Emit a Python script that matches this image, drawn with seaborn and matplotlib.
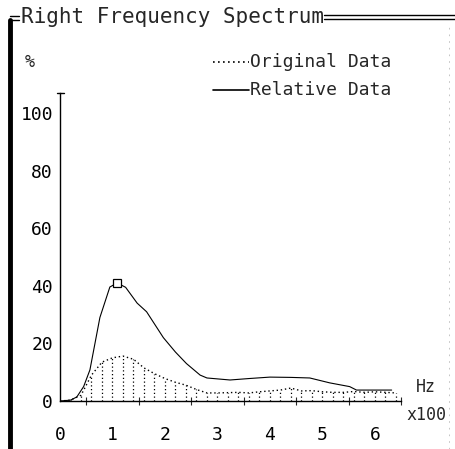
import matplotlib
matplotlib.use('Agg')
import matplotlib.pyplot as plt
import pandas as pd
import seaborn as sns
from matplotlib.lines import Line2D

# relative data (solid line), x in Hz x100
rel_x = [0.0, 0.2, 0.32, 0.45, 0.57, 0.76, 0.95, 1.09, 1.25, 1.47, 1.65, 1.97,
         2.2, 2.41, 2.67, 2.8, 3.24, 3.6, 4.0, 4.4, 4.76, 5.14, 5.52, 5.65, 6.0, 6.32]
rel_y = [0.0, 0.3, 1.4, 5.0, 10.8, 29.0, 39.6, 41.0, 39.5, 34.0, 31.0, 22.0,
         17.0, 13.0, 9.0, 8.0, 7.3, 7.8, 8.3, 8.2, 8.0, 6.3, 5.0, 3.8, 3.8, 3.8]
peak_x = [1.09]
peak_y = [41.0]

# original data (dotted line with dotted fill)
orig_x = [0.0, 0.2, 0.4, 0.6, 0.8, 1.0, 1.2, 1.4, 1.6, 1.8, 2.0, 2.2, 2.4, 2.6,
          2.8, 3.0, 3.2, 3.4, 3.6, 3.8, 4.0, 4.2, 4.4, 4.6, 4.8, 5.0, 5.2, 5.4,
          5.6, 5.8, 6.0, 6.2, 6.4]
orig_y = [0.0, 0.3, 2.0, 9.0, 13.5, 15.0, 15.6, 14.5, 11.5, 9.5, 7.8, 6.5, 5.5, 4.0,
          2.8, 2.8, 2.9, 3.0, 2.8, 3.2, 3.5, 3.8, 4.5, 3.5, 3.6, 3.2, 3.0, 3.0,
          3.3, 3.0, 3.2, 3.0, 2.8]

x_ticks = [0, 1, 2, 3, 4, 5, 6]
y_ticks = [0, 20, 40, 60, 80, 100]

sns.set_style('white')
plt.rcParams['font.family'] = ['DejaVu Sans Mono', 'DejaVu Sans']

fig = plt.figure(figsize=(4.56, 4.49), dpi=100)
ax = fig.add_axes([0.1316, 0.1069, 0.748, 0.686])

rel = pd.DataFrame({'x': rel_x, 'y': rel_y})
orig = pd.DataFrame({'x': orig_x, 'y': orig_y})

ax.vlines(orig.x, 0, orig.y, colors='black', linestyles=(0, (1, 2)), linewidth=0.9)
sns.lineplot(data=orig, x='x', y='y', ax=ax, color='black', linestyle=(0, (1, 2)),
             linewidth=1.0)
sns.lineplot(data=rel, x='x', y='y', ax=ax, color='black', linewidth=0.8)
ax.plot(peak_x, peak_y, marker='s', markersize=6, markerfacecolor='white',
        markeredgecolor='black', markeredgewidth=0.9, linestyle='none')

ax.set_xlim(0, 6.5)
ax.set_ylim(0, 107)
ax.set_xticks(x_ticks)
ax.set_yticks(y_ticks)
ax.set_xticks([0.5, 1.5, 2.5, 3.5, 4.5, 5.5, 6.5], minor=True)
ax.set_xlabel('')
ax.set_ylabel('')
ax.tick_params(axis='both', direction='inout', length=8, width=1.0,
               labelsize=13, colors='black')
ax.tick_params(axis='x', which='major', length=12, pad=12)
ax.tick_params(axis='x', which='minor', direction='inout', length=6, width=0.8,
               bottom=True)
ax.tick_params(axis='y', pad=1)
for s in ['top', 'right']:
    ax.spines[s].set_visible(False)
for s in ['left', 'bottom']:
    ax.spines[s].set_color('black')
    ax.spines[s].set_linewidth(1.0)

# cap on top of the y axis
fig.add_artist(Line2D([0.124, 0.140], [0.793, 0.793], color='black', linewidth=1.0))

# legend drawn as text with sample lines
fig.add_artist(Line2D([0.467, 0.545], [0.862, 0.862], color='black',
                      linestyle=(0, (1, 2)), linewidth=1.2))
fig.add_artist(Line2D([0.467, 0.545], [0.80, 0.80], color='black', linewidth=1.2))
fig.text(0.548, 0.862, 'Original Data', fontsize=13, va='center', ha='left')
fig.text(0.548, 0.800, 'Relative Data', fontsize=13, va='center', ha='left')

fig.text(0.055, 0.862, '%', fontsize=12, va='center', ha='left')
fig.text(0.935, 0.138, 'Hz', fontsize=12, va='center', ha='center')
fig.text(0.935, 0.076, 'x100', fontsize=12, va='center', ha='center')

# title and frame
fig.text(0.045, 0.962, 'Right Frequency Spectrum', fontsize=15, va='center', ha='left')
fig.add_artist(Line2D([0.022, 0.022], [0.0, 0.955], color='black', linewidth=3.5))
fig.add_artist(Line2D([0.022, 0.042], [0.955, 0.955], color='black', linewidth=1.0))
fig.add_artist(Line2D([0.022, 0.042], [0.965, 0.965], color='black', linewidth=1.0))
fig.add_artist(Line2D([0.71, 1.0], [0.958, 0.958], color='black', linewidth=1.0))
fig.add_artist(Line2D([0.71, 1.0], [0.967, 0.967], color='black', linewidth=1.0))
fig.add_artist(Line2D([0.985, 0.985], [0.0, 0.94], color='#bbbbbb', linewidth=0.6,
                      linestyle=(0, (2, 6))))

fig.savefig('out.png', dpi=100, facecolor='white')
